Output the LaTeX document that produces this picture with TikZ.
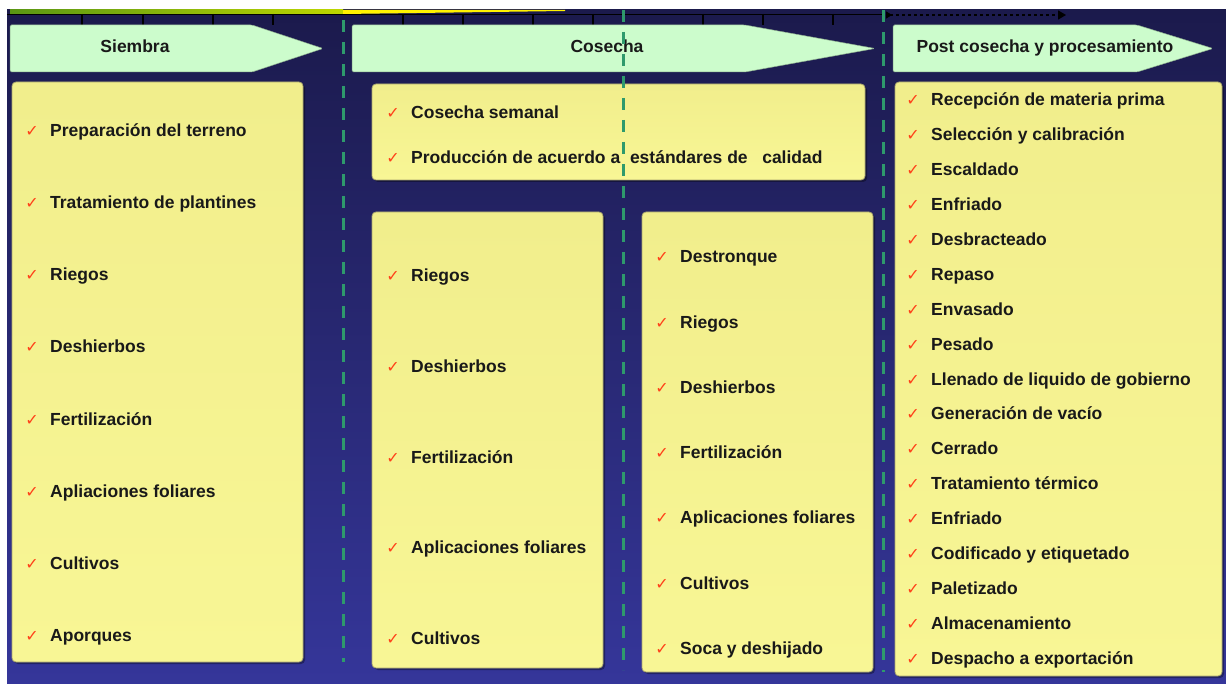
\documentclass[tikz,border=0pt]{standalone}
\usepackage{fontspec}
\setmainfont{Liberation Sans}
\newfontfamily\symfont{DejaVu Sans}
\usetikzlibrary{arrows.meta}
\definecolor{navytop}{HTML}{1B1A4C}
\definecolor{navybot}{HTML}{35369A}
\definecolor{mint}{HTML}{CCFCCC}
\definecolor{papertop}{HTML}{F1EE8C}
\definecolor{paperbot}{HTML}{F8F695}
\definecolor{tickred}{HTML}{FF4019}
\definecolor{guide}{HTML}{2E9A6C}
\definecolor{boxedge}{HTML}{A9A66E}
\tikzset{
  x=1pt, y=-1pt,
  itemtext/.style={anchor=base west, font=\bfseries\fontsize{17.5}{19}\selectfont, inner sep=0pt, text=black!90},
  chk/.style={anchor=base, font=\symfont\fontsize{16}{18}\selectfont, text=tickred, inner sep=0pt},
  headtext/.style={anchor=base, font=\bfseries\fontsize{17.5}{19}\selectfont, inner sep=0pt, text=black!90},
  paperbox/.style={draw=boxedge, line width=0.8pt, rounded corners=4pt, top color=papertop, bottom color=paperbot},
  boxshadow/.style={fill=black, opacity=0.35, rounded corners=4pt},
  headshape/.style={fill=mint, draw=mint!70!black, line width=0.5pt, rounded corners=1.5pt},
  guideline/.style={draw=guide, line width=3pt, dash pattern=on 12pt off 10pt},
  tickmark/.style={draw=black, line width=1.6pt},
}
\newcommand\chkitem[4]{%
  \node[chk] (#1c) at (#2-18,#3+6) {✓};
  \node[itemtext] (#1) at (#2,#3+6) {#4};}
\begin{document}
\begin{tikzpicture}
\useasboundingbox (0,0) rectangle (1226,684);
\fill[white] (0,0) rectangle (1226,684);
% background
\shade[top color=navytop, bottom color=navybot] (7,10) rectangle (1227,685);
% top bar
\shade[left color={rgb,255:red,90;green,150;blue,20}, right color={rgb,255:red,190;green,215;blue,0}] (10,10) rectangle (343,14);
\fill[yellow] (343,10) -- (565,10) -- (565,11) -- (343,14) -- cycle;
\foreach \tx in {82,143,213,273,403,463,533,593,703,763,833}
  \draw[tickmark] (\tx,14) -- (\tx,25);
\draw[black, line width=0.8pt] (7,14.5) -- (883,14.5);
% dashed arrow
\coordinate (arrS) at (886,15);
\coordinate (arrE) at (1066,15);
\draw[black, line width=1.3pt, dash pattern=on 3pt off 3pt, {Triangle[reversed,length=6pt,width=7pt]}-{Triangle[length=8pt,width=9pt]}] (arrS) -- (arrE);
% headers
\path[headshape] (10,25) -- (252,25) -- (323,48.5) -- (252,72) -- (10,72) -- cycle;
\path[headshape] (352,25) -- (745,25) -- (875,48.5) -- (745,72) -- (352,72) -- cycle;
\path[headshape] (893,25) -- (1137,25) -- (1213,48.5) -- (1137,72) -- (893,72) -- cycle;
\node[headtext] (hsiembra) at (135,53) {Siembra};
\node[headtext] (hcosecha) at (607,53) {Cosecha};
\node[headtext] (hpost) at (1045,53) {Post cosecha y procesamiento};
% boxes
\fill[boxshadow] (14,84) rectangle (305,664);
\path[paperbox] (12,82) rectangle (303,662);
\fill[boxshadow] (374,86) rectangle (867,182);
\path[paperbox] (372,84) rectangle (865,180);
\fill[boxshadow] (374,214) rectangle (605,670);
\path[paperbox] (372,212) rectangle (603,668);
\fill[boxshadow] (644,214) rectangle (875,674);
\path[paperbox] (642,212) rectangle (873,672);
\fill[boxshadow] (897,84) rectangle (1224,678);
\path[paperbox] (895,82) rectangle (1222,676);
% Siembra items
\foreach \t [count=\i from 0] in {Preparación del terreno, Tratamiento de plantines, Riegos, Deshierbos, Fertilización, Apliaciones foliares, Cultivos, Aporques}
  {\chkitem{s\i}{50}{131+72*\i}{\t}}
% Cosecha top
\chkitem{ct0}{411}{113}{Cosecha semanal}
\chkitem{ct1}{411}{158}{Producción de acuerdo a\ \ estándares de\ \ \ calidad}
% Cosecha left
\foreach \t [count=\i from 0] in {Riegos, Deshierbos, Fertilización, Aplicaciones foliares, Cultivos}
  {\chkitem{cl\i}{411}{276+90.5*\i}{\t}}
% Cosecha right
\foreach \t [count=\i from 0] in {Destronque, Riegos, Deshierbos, Fertilización, Aplicaciones foliares, Cultivos, Soca y deshijado}
  {\chkitem{cr\i}{680}{257+65.2*\i}{\t}}
% Post cosecha
\foreach \t [count=\i from 0] in {Recepción de materia prima, Selección y calibración, Escaldado, Enfriado, Desbracteado, Repaso, Envasado, Pesado, Llenado de liquido de gobierno, Generación de vacío, Cerrado, Tratamiento térmico, Enfriado, Codificado y etiquetado, Paletizado, Almacenamiento, Despacho a exportación}
  {\chkitem{p\i}{931}{100+34.875*\i}{\t}}
% guide lines
\coordinate (g1t) at (343,20); \coordinate (g1b) at (343,662);
\coordinate (g2t) at (623,10); \coordinate (g2b) at (623,670);
\coordinate (g3t) at (883,10); \coordinate (g3b) at (883,672);
\draw[guideline] (g1t) -- (g1b);
\draw[guideline] (g2t) -- (g2b);
\draw[guideline] (g3t) -- (g3b);
\end{tikzpicture}
\end{document}
